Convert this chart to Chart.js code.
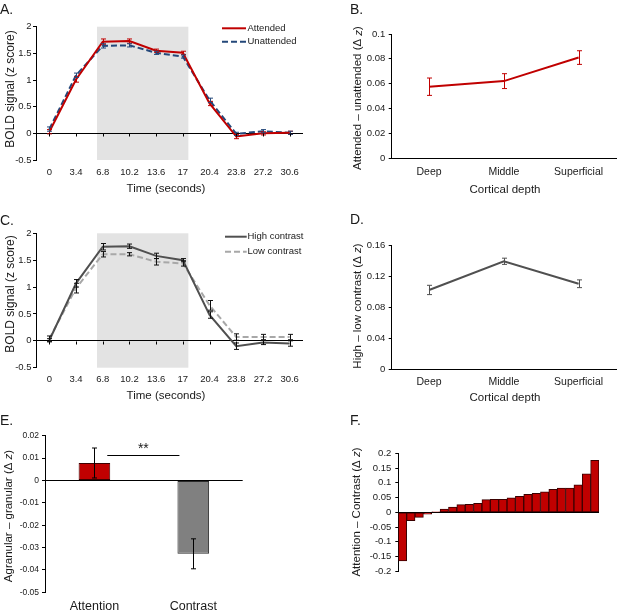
<!DOCTYPE html>
<html><head><meta charset="utf-8">
<script src="https://cdn.jsdelivr.net/npm/chart.js@4.4.1/dist/chart.umd.min.js"></script>
<style>
html,body{margin:0;padding:0;background:#fff;}
#wrap{position:relative;width:617px;height:612px;overflow:hidden;background:#fff;}
#wrap canvas{position:absolute;left:0;top:0;}
</style></head><body>
<div id="wrap">
<canvas id="cA" width="617" height="612"></canvas>
<canvas id="cB" width="617" height="612"></canvas>
<canvas id="cC" width="617" height="612"></canvas>
<canvas id="cD" width="617" height="612"></canvas>
<canvas id="cE" width="617" height="612"></canvas>
<canvas id="cF" width="617" height="612"></canvas>
</div>
<script>
// ---------------- DATA ----------------
const timeStep = 3.4;
const timeLabels = ['0','3.4','6.8','10.2','13.6','17','20.4','23.8','27.2','30.6'];
const shadeWindow = [6.07, 17.7]; // seconds (stimulus period)

const attended      = [0.03, 1.01, 1.72, 1.73, 1.55, 1.51, 0.56, -0.06, 0.00, 0.01];
const attendedErr   = [0.04, 0.05, 0.05, 0.04, 0.03, 0.03, 0.04, 0.04, 0.03, 0.03];
const unattended    = [0.08, 1.09, 1.64, 1.65, 1.51, 1.44, 0.62, -0.01, 0.04, 0.01];
const unattendedErr = [0.04, 0.04, 0.04, 0.03, 0.03, 0.03, 0.04, 0.03, 0.03, 0.03];

const depthLabels = ['Deep','Middle','Superficial'];
const attnDiff    = [0.0575, 0.062, 0.081];
const attnDiffErr = [0.007, 0.006, 0.0055];

const highContrast    = [0.01, 1.07, 1.75, 1.76, 1.58, 1.50, 0.48, -0.10, -0.03, -0.05];
const highContrastErr = [0.03, 0.07, 0.06, 0.04, 0.05, 0.03, 0.06, 0.06, 0.04, 0.05];
const lowContrast     = [0.04, 0.98, 1.61, 1.61, 1.47, 1.44, 0.66, 0.07, 0.07, 0.07];
const lowContrastErr  = [0.05, 0.09, 0.05, 0.03, 0.06, 0.05, 0.09, 0.06, 0.05, 0.05];

const contrastDiff    = [0.102, 0.139, 0.110];
const contrastDiffErr = [0.006, 0.004, 0.005];

const effectLabels     = ['Attention','Contrast'];
const laminarEffect    = [0.0078, -0.0328];
const laminarEffectErr = [0.0067, 0.0067];
const sigBar = {from: 0.13, to: 0.86, level: 0.0112, label: '**'};

const subjectLabels = ['1','2','3','4','5','6','7','8','9','10','11','12','13','14','15','16','17','18','19','20','21','22','23','24'];
const attnMinusContrast = [-0.165, -0.028, -0.017, -0.006, 0.001, 0.011, 0.018, 0.026, 0.027, 0.030, 0.043, 0.044,
                           0.044, 0.049, 0.054, 0.061, 0.064, 0.069, 0.078, 0.082, 0.082, 0.093, 0.130, 0.176];

// ---------------- STYLE ----------------
const FONT = '"Liberation Sans", Arial, Helvetica, sans-serif';
const INK = '#1a1a1a';
const RED = '#c00000';
const BLUE = '#24487a';
const DARK = '#505050';
const LIGHT = '#a8a8a8';
const SHADE = '#e3e3e3';
const W = 617, H = 612;
const ROT = -Math.PI / 2;

function fmt(v) { return String(Math.round(v * 10000) / 10000); }

function txt(ctx, segs, x, y, size, opt) {
  opt = opt || {};
  ctx.save();
  ctx.translate(x, y);
  if (opt.rot) ctx.rotate(opt.rot);
  ctx.textBaseline = opt.baseline || 'middle';
  ctx.textAlign = 'left';
  ctx.fillStyle = INK;
  const fonts = segs.map(s => (s[1] ? 'italic ' : '') + size + 'px ' + FONT);
  const widths = segs.map((s, i) => { ctx.font = fonts[i]; return ctx.measureText(s[0]).width; });
  const total = widths.reduce((a, b) => a + b, 0);
  let cx = opt.align === 'left' ? 0 : -total / 2;
  segs.forEach((s, i) => { ctx.font = fonts[i]; ctx.fillText(s[0], cx, 0); cx += widths[i]; });
  ctx.restore();
}

// ---------------- PLUGINS ----------------
const errorBarPlugin = {
  id: 'errorBars',
  afterDatasetsDraw(chart) {
    const ctx = chart.ctx, ys = chart.scales.y;
    chart.data.datasets.forEach((ds, di) => {
      if (!ds.errors) return;
      const meta = chart.getDatasetMeta(di);
      ctx.save();
      ctx.strokeStyle = ds.errorColor || '#000';
      ctx.lineWidth = 1;
      ctx.setLineDash([]);
      meta.data.forEach((el, i) => {
        const v = ds.data[i], e = ds.errors[i];
        const x = Math.round(el.x) + 0.5;
        const y1 = ys.getPixelForValue(v + e), y2 = ys.getPixelForValue(v - e);
        ctx.beginPath();
        ctx.moveTo(x, y1); ctx.lineTo(x, y2);
        ctx.moveTo(x - 2.5, y1); ctx.lineTo(x + 2.5, y1);
        ctx.moveTo(x - 2.5, y2); ctx.lineTo(x + 2.5, y2);
        ctx.stroke();
      });
      ctx.restore();
    });
  }
};

function shadePlugin() {
  return { id: 'shade', beforeDraw(chart) {
    const xs = chart.scales.x, a = chart.chartArea, ctx = chart.ctx;
    const x0 = xs.getPixelForValue(shadeWindow[0] / timeStep);
    const x1 = xs.getPixelForValue(shadeWindow[1] / timeStep);
    ctx.save(); ctx.fillStyle = SHADE;
    ctx.fillRect(x0, a.top, x1 - x0, a.bottom - a.top);
    ctx.restore();
  }};
}

const zeroTicks = { id: 'zeroTicks', afterDraw(chart) {
  const xs = chart.scales.x, ys = chart.scales.y, ctx = chart.ctx;
  const y0 = Math.round(ys.getPixelForValue(0)) + 0.5;
  ctx.save(); ctx.strokeStyle = '#000'; ctx.lineWidth = 1;
  chart.data.labels.forEach((l, i) => {
    const x = Math.round(xs.getPixelForValue(i)) + 0.5;
    ctx.beginPath(); ctx.moveTo(x, y0); ctx.lineTo(x, y0 + 3); ctx.stroke();
  });
  ctx.restore();
}};

function legendPlugin(x0, x1, tx, ys) {
  return { id: 'lg', afterDraw(chart) {
    const ctx = chart.ctx;
    chart.data.datasets.forEach((ds, i) => {
      const y = ys[i];
      ctx.save();
      ctx.strokeStyle = ds.borderColor; ctx.lineWidth = 2;
      ctx.setLineDash(ds.borderDash || []);
      ctx.beginPath(); ctx.moveTo(x0, y); ctx.lineTo(x1, y); ctx.stroke();
      ctx.restore();
      txt(ctx, [[ds.label]], tx, y, 9.5, {align: 'left'});
    });
  }};
}

function textPlugin(items) {
  return { id: 'tx', afterDraw(chart) {
    items.forEach(it => txt(chart.ctx, it.segs, it.x, it.y, it.size, it));
  }};
}

const sigPlugin = { id: 'sig', afterDatasetsDraw(chart) {
  const xs = chart.scales.x, ys = chart.scales.y, ctx = chart.ctx;
  const y = Math.round(ys.getPixelForValue(sigBar.level)) + 0.5;
  const x0 = xs.getPixelForValue(sigBar.from), x1 = xs.getPixelForValue(sigBar.to);
  ctx.save(); ctx.strokeStyle = '#000'; ctx.lineWidth = 1;
  ctx.beginPath(); ctx.moveTo(x0, y); ctx.lineTo(x1, y); ctx.stroke();
  ctx.restore();
  txt(ctx, [[sigBar.label]], (x0 + x1) / 2, y - 2.5, 14, {baseline: 'alphabetic'});
}};

// ---------------- PANEL BUILDER ----------------
function panel(id, spec) {
  const a = spec.area;
  const yW = 30;
  const xH = spec.xH || 0;
  const yOpts = {
    type: 'linear', min: spec.y.min, max: spec.y.max,
    afterFit: s => { s.width = yW; },
    border: {display: true, color: '#000', width: 1},
    grid: {
      drawOnChartArea: !!spec.y.zeroLine,
      color: c => (c.tick && c.tick.value === 0) ? '#000' : 'rgba(0,0,0,0)',
      tickColor: '#000', tickLength: 3, lineWidth: 1, drawTicks: true
    },
    ticks: {stepSize: spec.y.step, padding: spec.y.pad, color: INK,
            font: {family: FONT, size: spec.y.font}, callback: v => fmt(v)}
  };
  const xOpts = {
    type: 'category', offset: true, display: spec.x.display !== false,
    afterFit: s => { s.height = xH; },
    grid: {display: false, drawTicks: false},
    border: {display: !!spec.x.border, color: '#000', width: 1},
    ticks: {padding: spec.x.pad || 0, color: INK, font: {family: FONT, size: spec.x.font || 10},
            autoSkip: false, maxRotation: 0, minRotation: 0}
  };
  return new Chart(document.getElementById(id), {
    type: spec.type,
    data: {labels: spec.labels, datasets: spec.datasets},
    options: {
      responsive: false, animation: false, events: [],
      layout: {padding: {left: a.L - yW, top: a.T, right: W - a.R, bottom: H - a.B - xH}},
      scales: {x: xOpts, y: yOpts},
      plugins: {legend: {display: false}, tooltip: {enabled: false}}
    },
    plugins: [errorBarPlugin].concat(spec.plugins || [])
  });
}

const lineDs = (label, data, errors, color, dash, errColor) => ({
  label, data, errors, errorColor: errColor || color, borderColor: color, backgroundColor: color,
  borderWidth: 2, borderDash: dash || [], pointRadius: 0, fill: false, tension: 0
});

// ---------------- A ----------------
panel('cA', {
  type: 'line', labels: timeLabels,
  area: {L: 36, T: 26.7, R: 303, B: 160}, xH: 30,
  y: {min: -0.5, max: 2, step: 0.5, font: 9.5, pad: 1.5, zeroLine: true},
  x: {font: 9.5, pad: 6.5},
  datasets: [
    lineDs('Attended', attended, attendedErr, RED),
    lineDs('Unattended', unattended, unattendedErr, BLUE, [6, 3])
  ],
  plugins: [shadePlugin(), zeroTicks, legendPlugin(222, 246, 247.5, [28.3, 41.7]),
    textPlugin([
      {segs: [['A.']], x: 0, y: 13.5, size: 14, align: 'left', baseline: 'alphabetic'},
      {segs: [['BOLD signal (z score)']], x: 10.8, y: 89, size: 12, rot: ROT},
      {segs: [['Time (seconds)']], x: 166, y: 189, size: 11.5}
    ])]
});

// ---------------- B ----------------
panel('cB', {
  type: 'line', labels: depthLabels,
  area: {L: 391.7, T: 34, R: 616, B: 158}, xH: 30,
  y: {min: 0, max: 0.1, step: 0.02, font: 9.5, pad: 3.5},
  x: {font: 10.5, pad: 7.4, border: true},
  datasets: [lineDs('Attended – unattended', attnDiff, attnDiffErr, RED)],
  plugins: [textPlugin([
    {segs: [['B.']], x: 350, y: 13.5, size: 14, align: 'left', baseline: 'alphabetic'},
    {segs: [['Attended – unattended (Δ '], ['z', true], [')']], x: 358.3, y: 98, size: 11.5, rot: ROT},
    {segs: [['Cortical depth']], x: 505, y: 189.5, size: 11.5}
  ])]
});

// ---------------- C ----------------
panel('cC', {
  type: 'line', labels: timeLabels,
  area: {L: 36, T: 233.3, R: 303, B: 367.7}, xH: 30,
  y: {min: -0.5, max: 2, step: 0.5, font: 9.5, pad: 1.5, zeroLine: true},
  x: {font: 9.5, pad: 6},
  datasets: [
    lineDs('High contrast', highContrast, highContrastErr, DARK, [], '#111'),
    lineDs('Low contrast', lowContrast, lowContrastErr, LIGHT, [6, 3], '#111')
  ],
  plugins: [shadePlugin(), zeroTicks, legendPlugin(225, 246.7, 247.5, [236.7, 251.7]),
    textPlugin([
      {segs: [['C.']], x: 0, y: 224.5, size: 14, align: 'left', baseline: 'alphabetic'},
      {segs: [['BOLD signal (z score)']], x: 10.5, y: 294, size: 12, rot: ROT},
      {segs: [['Time (seconds)']], x: 166, y: 396, size: 11.5}
    ])]
});

// ---------------- D ----------------
panel('cD', {
  type: 'line', labels: depthLabels,
  area: {L: 391.7, T: 245, R: 616, B: 369}, xH: 30,
  y: {min: 0, max: 0.16, step: 0.04, font: 9.5, pad: 3.5},
  x: {font: 10.5, pad: 6.5, border: true},
  datasets: [lineDs('High – low contrast', contrastDiff, contrastDiffErr, DARK)],
  plugins: [textPlugin([
    {segs: [['D.']], x: 350, y: 224, size: 14, align: 'left', baseline: 'alphabetic'},
    {segs: [['High – low contrast (Δ '], ['z', true], [')']], x: 357.7, y: 306, size: 11.5, rot: ROT},
    {segs: [['Cortical depth']], x: 505, y: 397.5, size: 11.5}
  ])]
});

// ---------------- E ----------------
panel('cE', {
  type: 'bar', labels: effectLabels,
  area: {L: 45, T: 435.7, R: 242.7, B: 592.3}, xH: 19.7,
  y: {min: -0.05, max: 0.02, step: 0.01, font: 8.5, pad: 3, zeroLine: true},
  x: {font: 12.5, pad: 7},
  datasets: [{
    label: 'Agranular – granular', data: laminarEffect, errors: laminarEffectErr, errorColor: '#000',
    backgroundColor: [RED, '#808080'], borderColor: ['#3d0000', '#2b2b2b'], borderWidth: 1,
    borderSkipped: false, barPercentage: 0.32, categoryPercentage: 1
  }],
  plugins: [sigPlugin, textPlugin([
    {segs: [['E.']], x: 0, y: 425, size: 14, align: 'left', baseline: 'alphabetic'},
    {segs: [['Agranular – granular (Δ '], ['z', true], [')']], x: 8.5, y: 516, size: 11.5, rot: ROT}
  ])]
});

// ---------------- F ----------------
panel('cF', {
  type: 'bar', labels: subjectLabels,
  area: {L: 398.3, T: 453.3, R: 599, B: 571.3}, xH: 0,
  y: {min: -0.2, max: 0.2, step: 0.05, font: 9.5, pad: 4, zeroLine: true},
  x: {display: false},
  datasets: [{
    label: 'Attention – Contrast', data: attnMinusContrast,
    backgroundColor: RED, borderColor: '#3a0000', borderWidth: 1,
    borderSkipped: false, barPercentage: 1, categoryPercentage: 1
  }],
  plugins: [textPlugin([
    {segs: [['F.']], x: 350, y: 425, size: 14, align: 'left', baseline: 'alphabetic'},
    {segs: [['Attention – Contrast (Δ '], ['z', true], [')']], x: 357, y: 512, size: 11.5, rot: ROT}
  ])]
});
</script>
</body></html>
